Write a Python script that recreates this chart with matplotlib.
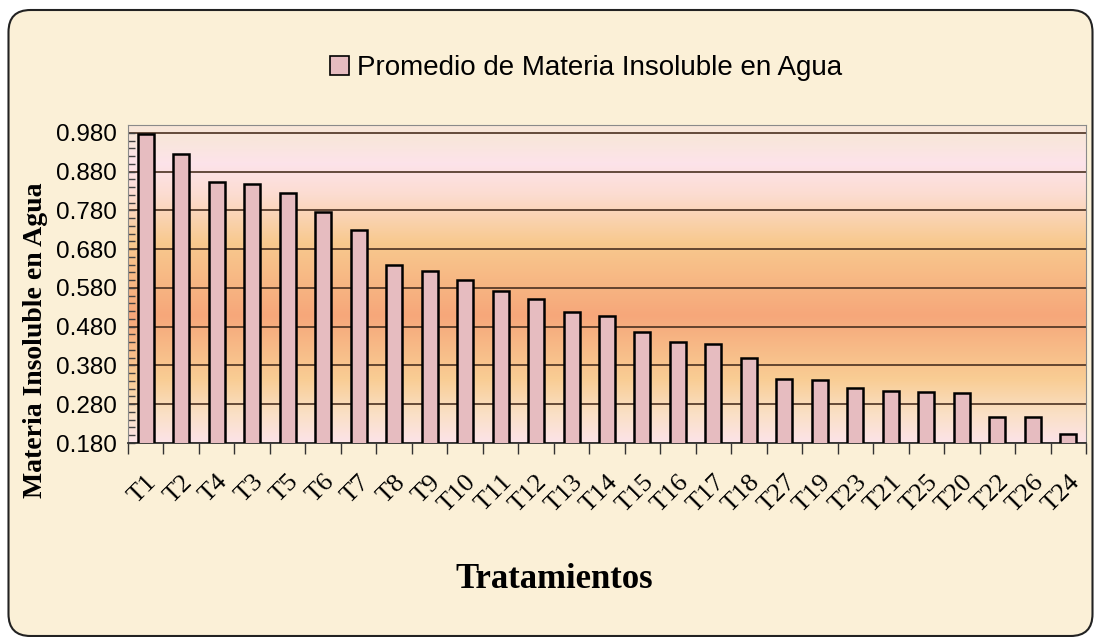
import numpy as np
import matplotlib
matplotlib.use("Agg")
import matplotlib.pyplot as plt
from matplotlib.colors import LinearSegmentedColormap
from matplotlib.patches import FancyBboxPatch, Patch

# data
tratamientos = ['T1', 'T2', 'T4', 'T3', 'T5', 'T6', 'T7', 'T8', 'T9', 'T10',
                'T11', 'T12', 'T13', 'T14', 'T15', 'T16', 'T17', 'T18', 'T27',
                'T19', 'T23', 'T21', 'T25', 'T20', 'T22', 'T26', 'T24']
promedio = [0.977, 0.926, 0.853, 0.848, 0.824, 0.776, 0.730, 0.639, 0.624, 0.601,
            0.572, 0.552, 0.518, 0.508, 0.466, 0.440, 0.435, 0.399, 0.344,
            0.342, 0.321, 0.315, 0.312, 0.310, 0.248, 0.248, 0.203]
y_ticks = [0.18, 0.28, 0.38, 0.48, 0.58, 0.68, 0.78, 0.88, 0.98]

fig = plt.figure(figsize=(10.94, 6.37), dpi=100)
fig.patch.set_facecolor('white')

# rounded cream panel behind everything (pixel coords)
panel = FancyBboxPatch((8.5, 1), 1084, 626, boxstyle="round,pad=0,rounding_size=22",
                       transform=None, facecolor='#fbf0d7', edgecolor='#222222',
                       linewidth=1.5, zorder=-10)
fig.patches.append(panel)

ax = fig.add_axes([128 / 1094, 1 - 443 / 637, (1086 - 128) / 1094, (443 - 125) / 637])
ax.set_xlim(-0.5, len(tratamientos) - 0.5)

# vertical gradient behind the bars
grad = LinearSegmentedColormap.from_list('fondo', [
    (0.00, '#fce3e8'), (0.09, '#fae0c6'), (0.20, '#f9cd94'), (0.40, '#f6a77a'),
    (0.63, '#f8c98e'), (0.78, '#fcdcd0'), (0.88, '#fde3ea'), (0.95, '#f9e6dc'),
    (1.00, '#f8e6d8')])
g = np.linspace(0, 1, 256).reshape(-1, 1)
ax.imshow(g, cmap=grad, aspect='auto', origin='lower',
          extent=(-0.5, len(tratamientos) - 0.5, 0.18, 1.0), zorder=0)

x = np.arange(len(tratamientos))
ax.bar(x, promedio, width=0.45, bottom=0, color='#e6bcc0', edgecolor='black',
       linewidth=1.8, zorder=3)
ax.set_ylim(0.18, 1.0)

ax.set_yticks(y_ticks)
ax.set_yticklabels(['%.3f' % v for v in y_ticks], fontsize=17.5, family='Liberation Sans')
ax.set_yticks(np.arange(0.18, 1.0, 0.02), minor=True)
ax.tick_params(axis='y', which='both', direction='in', length=5, width=1,
               color='#444444', pad=8)
ax.grid(axis='y', which='major', color='#4a3020', linewidth=1.2, zorder=1)

ax.set_xticks(x)
ax.set_xticklabels(tratamientos, rotation=45, ha='right', rotation_mode='anchor',
                   fontsize=19, family='Liberation Serif')
ax.set_xticks(np.arange(-0.5, len(tratamientos)), minor=True)
ax.tick_params(axis='x', which='major', length=0, pad=20)
ax.tick_params(axis='x', which='minor', direction='out', length=8, width=1, color='#333333')

for s in ['left', 'top', 'right']:
    ax.spines[s].set_color('#8a8a8a')
ax.spines['bottom'].set_color('#333333')
ax.spines['bottom'].set_linewidth(1.3)

fig.text(36 / 1094, 1 - 340 / 637, 'Materia Insoluble en Agua', rotation=90,
         ha='center', va='center', fontsize=20, fontweight='bold', family='Liberation Serif')
fig.text(554 / 1094, 1 - 580 / 637, 'Tratamientos', ha='center', va='center',
         fontsize=25, fontweight='bold', family='Liberation Serif')

handle = Patch(facecolor='#e6bcc0', edgecolor='black', linewidth=1.2)
fig.legend([handle], ['Promedio de Materia Insoluble en Agua'], loc='center',
           bbox_to_anchor=(586 / 1094, 1 - 68 / 637), frameon=False,
           handlelength=0.7, handleheight=0.7, handletextpad=0.3,
           prop={'family': 'Liberation Sans', 'size': 20})

fig.savefig('out.png', dpi=100)
